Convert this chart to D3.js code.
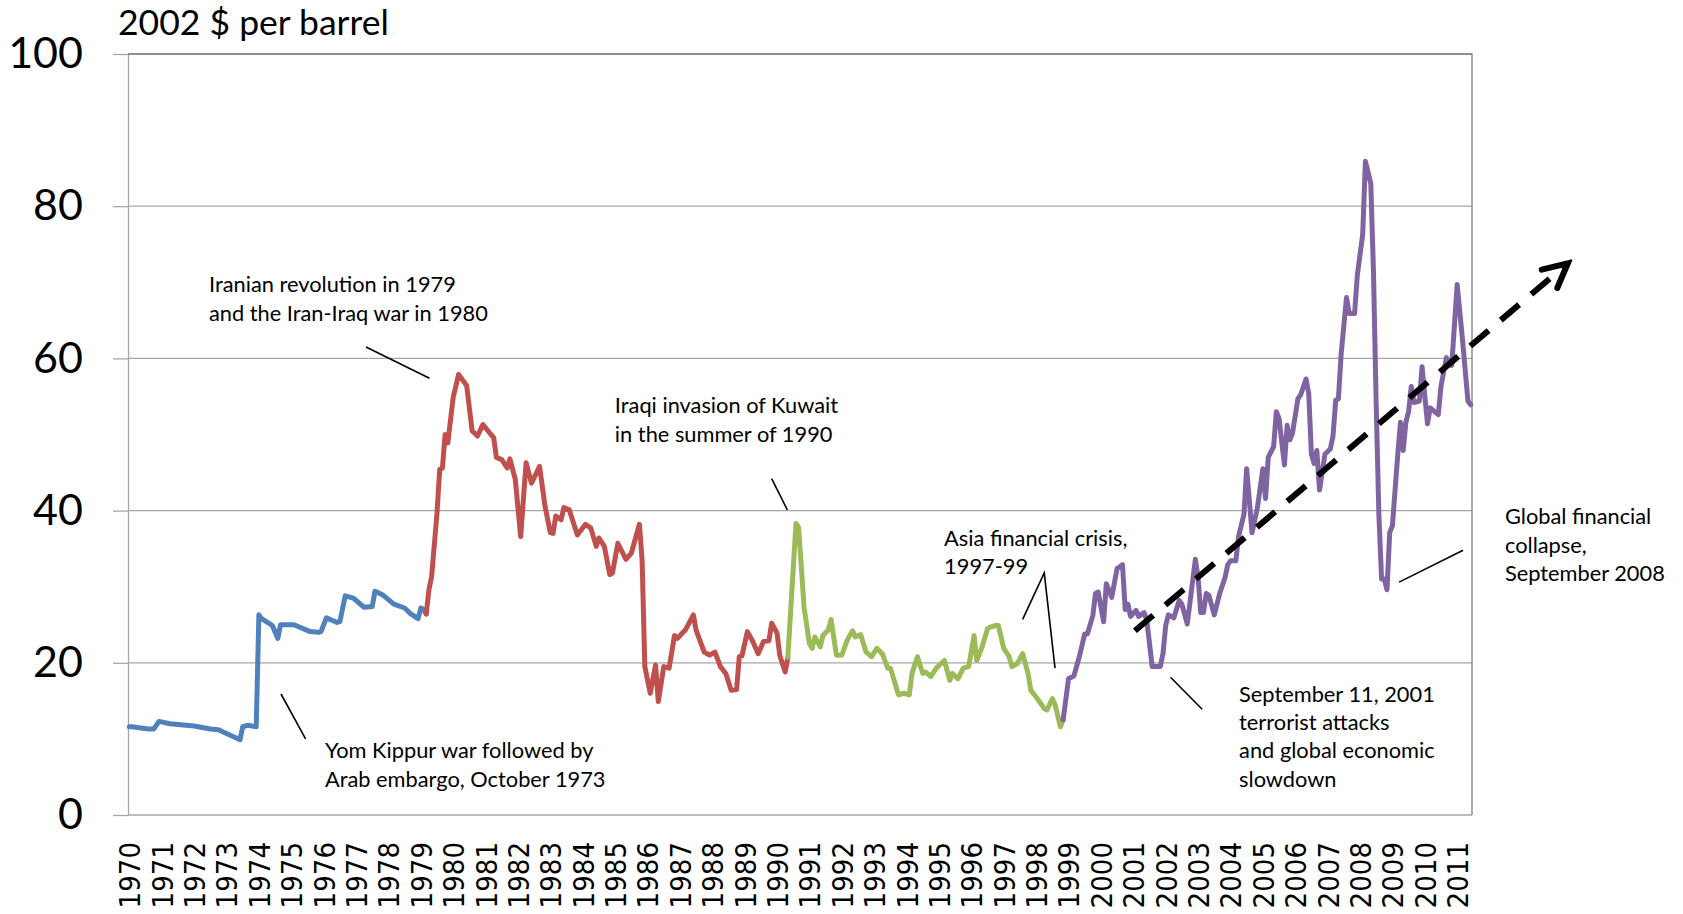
<!DOCTYPE html>
<html>
<head>
<meta charset="utf-8">
<script src="https://cdn.jsdelivr.net/npm/d3@7"></script>
<style>
  body { margin: 0; background: #fff; }
  svg { display: block; }
  .axis--y text { font-family: Lato, sans-serif; font-size: 43px; fill: #000; }
  .axis--x text { font-family: "DejaVu Sans Condensed", "DejaVu Sans", sans-serif; font-size: 29px; fill: #000; }
  .note { font-family: Lato, sans-serif; font-size: 21.8px; fill: #000; }
  .title { font-family: Lato, sans-serif; font-size: 35.5px; fill: #000; }
</style>
</head>
<body>
<svg width="1683" height="914"></svg>
<script>
// x labels, one per January
var years = [1970, 1971, 1972, 1973, 1974, 1975, 1976, 1977, 1978, 1979, 1980, 1981, 1982, 1983,
    1984, 1985, 1986, 1987, 1988, 1989, 1990, 1991, 1992, 1993, 1994, 1995, 1996, 1997, 1998,
    1999, 2000, 2001, 2002, 2003, 2004, 2005, 2006, 2007, 2008, 2009, 2010, 2011];
var yTicks = [0, 20, 40, 60, 80, 100];
var lastMonth = "2011-06";

var blueMonths = ["1970-01", "1970-02", "1970-08", "1970-10", "1970-12", "1971-04", "1972-01", "1972-07", "1972-10",
    "1973-01", "1973-06", "1973-07", "1973-09", "1973-12", "1974-01", "1974-02", "1974-06", "1974-08", "1974-09",
    "1975-02", "1975-08", "1975-11", "1975-12", "1976-02", "1976-06", "1976-07", "1976-09", "1976-12",
    "1977-04", "1977-07", "1977-08", "1977-11", "1978-03", "1978-07", "1978-09", "1978-12", "1979-01", "1979-02", "1979-03"];
var bluePrices = [11.6, 11.6, 11.3, 11.3, 12.3, 12.0, 11.7, 11.3, 11.2,
    10.7, 9.9, 11.6, 11.8, 11.6, 26.3, 25.8, 24.9, 23.2, 25.0,
    25.0, 24.1, 24.0, 24.1, 25.9, 25.3, 25.4, 28.8, 28.5,
    27.3, 27.4, 29.4, 28.9, 27.7, 27.2, 26.5, 25.8, 27.2, 27.0, 26.4];

var redMonths = ["1979-03", "1979-04", "1979-05", "1979-07", "1979-08", "1979-09", "1979-10", "1979-11",
    "1980-01", "1980-03", "1980-06", "1980-08", "1980-10", "1980-12",
    "1981-03", "1981-04", "1981-05", "1981-07", "1981-09", "1981-10", "1981-12",
    "1982-02", "1982-04", "1982-06", "1982-09", "1982-11",
    "1983-01", "1983-02", "1983-03", "1983-05", "1983-06", "1983-08", "1983-11",
    "1984-02", "1984-04", "1984-06", "1984-07", "1984-09", "1984-11", "1984-12",
    "1985-02", "1985-05", "1985-07", "1985-10", "1985-11", "1985-12",
    "1986-02", "1986-04", "1986-05", "1986-07", "1986-09", "1986-11", "1986-12",
    "1987-03", "1987-06", "1987-07", "1987-10", "1987-12",
    "1988-02", "1988-04", "1988-06", "1988-08", "1988-10", "1988-11", "1988-12",
    "1989-02", "1989-04", "1989-06", "1989-08", "1989-10", "1989-11",
    "1990-01", "1990-02", "1990-04", "1990-05"];
var redPrices = [26.4, 29.6, 31.3, 39.7, 45.4, 45.6, 50.0, 48.9,
    54.9, 57.9, 56.4, 50.5, 49.8, 51.3,
    50.0, 49.6, 47.0, 46.7, 45.6, 46.8, 44.1,
    36.6, 46.3, 43.6, 45.8, 40.6,
    37.1, 37.0, 39.3, 38.8, 40.4, 40.1, 36.8,
    38.2, 37.7, 35.3, 36.4, 35.3, 31.6, 31.8,
    35.7, 33.6, 34.4, 38.2, 33.5, 19.5,
    16.0, 19.7, 14.9, 19.5, 19.3, 23.6, 23.2,
    24.3, 26.3, 24.3, 21.4, 21.0,
    21.4, 19.5, 18.6, 16.4, 16.5, 20.8, 20.9,
    24.1, 22.8, 21.2, 22.8, 22.9, 25.2,
    23.9, 21.0, 18.8, 20.7];

var greenMonths = ["1990-05", "1990-08", "1990-09", "1990-11",
    "1991-01", "1991-02", "1991-03", "1991-05", "1991-06", "1991-08", "1991-09", "1991-11",
    "1992-01", "1992-03", "1992-05", "1992-06", "1992-08", "1992-10", "1992-12",
    "1993-02", "1993-04", "1993-06", "1993-07", "1993-10", "1993-12",
    "1994-02", "1994-03", "1994-05", "1994-07", "1994-08", "1994-10", "1994-12",
    "1995-03", "1995-05", "1995-06", "1995-08", "1995-10", "1995-12",
    "1996-02", "1996-03", "1996-05", "1996-07", "1996-08", "1996-10", "1996-11",
    "1997-01", "1997-03", "1997-04", "1997-06", "1997-08", "1997-10", "1997-11",
    "1998-01", "1998-04", "1998-05", "1998-07", "1998-08", "1998-10", "1998-11"];
var greenPrices = [20.7, 38.3, 37.8, 27.3,
    22.5, 21.9, 23.4, 22.1, 23.6, 24.3, 25.7, 21.0,
    21.0, 23.0, 24.2, 23.4, 23.7, 21.4, 20.8,
    21.9, 21.2, 19.3, 19.3, 15.8, 16.0,
    15.8, 18.6, 20.8, 18.6, 18.8, 18.2, 19.3,
    20.3, 17.7, 18.6, 17.9, 19.3, 19.5,
    23.6, 20.3, 22.1, 24.5, 24.7, 24.9, 24.9,
    21.9, 20.8, 19.5, 19.9, 21.2, 18.6, 16.4,
    15.5, 14.0, 13.8, 15.3, 14.5, 11.6, 12.5];

var purpleMonths = ["1998-11",
    "1999-01", "1999-03", "1999-05", "1999-07", "1999-08", "1999-10", "1999-11", "1999-12",
    "2000-02", "2000-03", "2000-05", "2000-07", "2000-08", "2000-09", "2000-10", "2000-11", "2000-12",
    "2001-02", "2001-03", "2001-05", "2001-06", "2001-08", "2001-11", "2001-12",
    "2002-01", "2002-02", "2002-04", "2002-06", "2002-07", "2002-09", "2002-12",
    "2003-01", "2003-02", "2003-03", "2003-04", "2003-05", "2003-07", "2003-09", "2003-11", "2003-12",
    "2004-01", "2004-03", "2004-04", "2004-06", "2004-07", "2004-09", "2004-11",
    "2005-01", "2005-02", "2005-03", "2005-05", "2005-06", "2005-07", "2005-09", "2005-10", "2005-11", "2005-12",
    "2006-02", "2006-03", "2006-05", "2006-06", "2006-07", "2006-08", "2006-09", "2006-10", "2006-12",
    "2007-02", "2007-03", "2007-04", "2007-05", "2007-06", "2007-08", "2007-09", "2007-11", "2007-12",
    "2008-02", "2008-03", "2008-05", "2008-06", "2008-07", "2008-08", "2008-09", "2008-10", "2008-11", "2008-12",
    "2009-01", "2009-03", "2009-04", "2009-05", "2009-06", "2009-07", "2009-08", "2009-09", "2009-11", "2009-12",
    "2010-02", "2010-03", "2010-06", "2010-07", "2010-09", "2010-11",
    "2011-01", "2011-03", "2011-05", "2011-06"];
var purplePrices = [12.5,
    17.9, 18.3, 20.8, 23.8, 23.8, 26.2, 29.1, 29.3,
    25.4, 30.4, 28.6, 32.4, 32.6, 32.9, 27.0, 27.7, 26.1,
    26.9, 26.1, 26.6, 25.6, 19.5, 19.5, 21.2,
    24.9, 26.3, 25.9, 28.2, 27.7, 25.1, 33.6,
    31.2, 26.6, 26.6, 29.1, 28.9, 26.3, 29.1, 31.2, 32.9,
    33.4, 33.4, 36.6, 39.5, 45.5, 37.1, 40.4,
    45.5, 41.6, 47.0, 48.4, 53.0, 52.1, 46.0, 51.2, 49.3, 50.2,
    54.7, 55.2, 57.3, 55.4, 47.4, 46.2, 47.9, 42.7, 47.4,
    48.1, 49.8, 54.5, 54.7, 60.5, 68.0, 65.9, 65.9, 70.9,
    76.3, 85.9, 83.0, 71.3, 54.0, 39.4, 31.0, 31.0, 29.6, 37.1,
    38.0, 47.4, 51.6, 47.9, 51.6, 53.0, 56.3, 54.2, 54.4, 58.9,
    51.4, 53.5, 52.6, 56.3, 60.1, 59.1,
    69.7, 62.4, 54.4, 53.9];

var periods = [
    {months: blueMonths, prices: bluePrices, color: "#4f81bd"},
    {months: redMonths, prices: redPrices, color: "#c0504d"},
    {months: greenMonths, prices: greenPrices, color: "#9bbb59"},
    {months: purpleMonths, prices: purplePrices, color: "#8064a2"}
];

// annotation anchors in chart units: [month index, price]
var notes = [
    {lines: ["Iranian revolution in 1979", "and the Iran-Iraq war in 1980"], at: [29.5, 68.7], leader: [[87.7, 61.5], [111.2, 57.4]]},
    {lines: ["Iraqi invasion of Kuwait", "in the summer of 1990"], at: [179.9, 52.8], leader: [[238.0, 44.2], [243.8, 40.1]]},
    {lines: ["Asia financial crisis,", "1997-99"], at: [301.9, 35.4], leader: [[331.0, 25.7], [339.0, 31.8], [343.0, 19.3]]},
    {lines: ["Yom Kippur war followed by", "Arab embargo, October 1973"], at: [72.5, 7.45], leader: [[56.2, 15.9], [65.3, 10.0]]},
    {lines: ["September 11, 2001", "terrorist attacks", "and global economic", "slowdown"], at: [411.2, 14.9], leader: [[385.8, 18.1], [397.5, 13.9]]},
    {lines: ["Global financial", "collapse,", "September 2008"], at: [509.7, 38.2], leader: [[470.5, 30.6], [494.2, 34.8]]}
];
var trendFrom = [372.6, 24.2], trendTo = [533.0, 72.5];

function monthIndex(s) {
    var p = s.split("-");
    return (+p[0] - 1970) * 12 + (+p[1] - 1);
}

var svg = d3.select("svg"),
    margin = {top: 54, right: 211, bottom: 99, left: 128},
    width = +svg.attr("width") - margin.left - margin.right,
    height = +svg.attr("height") - margin.top - margin.bottom;

var nMonths = monthIndex(lastMonth) + 1;
var x = d3.scaleLinear().domain([-0.5, nMonths - 0.5]).range([0, width]),
    y = d3.scaleLinear().domain([0, 100]).range([height, 0]);

var g = svg.append("g")
    .attr("transform", "translate(" + margin.left + "," + margin.top + ")");

// gridlines
g.append("g")
    .selectAll("line")
    .data(yTicks)
    .enter().append("line")
    .attr("x1", 0)
    .attr("x2", width)
    .attr("y1", function (d) { return y(d); })
    .attr("y2", function (d) { return y(d); })
    .attr("stroke", "#a6a6a6")
    .attr("stroke-width", 1.3);

// y axis
var yAxis = g.append("g")
    .attr("class", "axis axis--y")
    .call(d3.axisLeft(y).tickValues(yTicks).tickSize(15).tickSizeOuter(0).tickPadding(30));
yAxis.select(".domain").attr("stroke", "#a6a6a6").attr("stroke-width", 1.3);
yAxis.selectAll(".tick line").attr("stroke", "#a6a6a6").attr("stroke-width", 1.3);

// plot border top and right
g.append("path")
    .attr("d", "M0,0H" + width + "V" + height)
    .attr("fill", "none")
    .attr("stroke", "#808080")
    .attr("stroke-width", 1.3);

// x axis
var xAxis = g.append("g")
    .attr("class", "axis axis--x")
    .attr("transform", "translate(0," + height + ")")
    .call(d3.axisBottom(x)
        .tickValues(years.map(function (d) { return monthIndex(d + "-01"); }))
        .tickFormat(function (d) { return years[d / 12]; })
        .tickSize(0));
xAxis.select(".domain").remove();
xAxis.selectAll(".tick text")
    .attr("x", 0)
    .attr("y", 0)
    .attr("dy", "0.36em")
    .attr("text-anchor", "end")
    .attr("transform", "translate(0,27) rotate(-90)");

// price lines
var line = d3.line()
    .x(function (d) { return x(d.m); })
    .y(function (d) { return y(d.v); });

g.selectAll(".period")
    .data(periods)
    .enter().append("path")
    .attr("class", "period")
    .attr("fill", "none")
    .attr("stroke", function (d) { return d.color; })
    .attr("stroke-width", 5)
    .attr("stroke-linejoin", "round")
    .attr("stroke-linecap", "round")
    .attr("d", function (d) {
        return line(d.months.map(function (m, i) {
            return {m: monthIndex(m), v: d.prices[i]};
        }));
    });

// annotations
var note = g.selectAll(".note-g")
    .data(notes)
    .enter().append("g")
    .attr("class", "note-g");

note.append("path")
    .attr("fill", "none")
    .attr("stroke", "#000")
    .attr("stroke-width", 1.6)
    .attr("d", function (d) {
        return d3.line()(d.leader.map(function (p) { return [x(p[0]), y(p[1])]; }));
    });

note.append("text")
    .attr("class", "note")
    .attr("x", function (d) { return x(d.at[0]); })
    .attr("y", function (d) { return y(d.at[1]); })
    .each(function (d) {
        var t = d3.select(this);
        d.lines.forEach(function (s, i) {
            t.append("tspan")
                .attr("x", x(d.at[0]))
                .attr("dy", i === 0 ? 0 : 28.4)
                .text(s);
        });
    });

// dashed trend arrow
svg.append("defs").append("marker")
    .attr("id", "arrow")
    .attr("markerUnits", "userSpaceOnUse")
    .attr("viewBox", "-30 -16 36 32")
    .attr("markerWidth", 36)
    .attr("markerHeight", 32)
    .attr("refX", 0)
    .attr("refY", 0)
    .attr("orient", "auto")
    .append("path")
    .attr("d", "M-24,-12L0,0L-24,12")
    .attr("fill", "none")
    .attr("stroke", "#000")
    .attr("stroke-width", 6)
    .attr("stroke-linecap", "round")
    .attr("stroke-linejoin", "miter");

g.append("line")
    .attr("x1", x(trendFrom[0]))
    .attr("y1", y(trendFrom[1]))
    .attr("x2", x(trendTo[0]))
    .attr("y2", y(trendTo[1]))
    .attr("stroke", "#000")
    .attr("stroke-width", 6)
    .attr("stroke-dasharray", "24,16")
    .attr("marker-end", "url(#arrow)");

// unit label
svg.append("text")
    .attr("class", "title")
    .attr("x", 118)
    .attr("y", 35)
    .text("2002 $ per barrel");
</script>
</body>
</html>
